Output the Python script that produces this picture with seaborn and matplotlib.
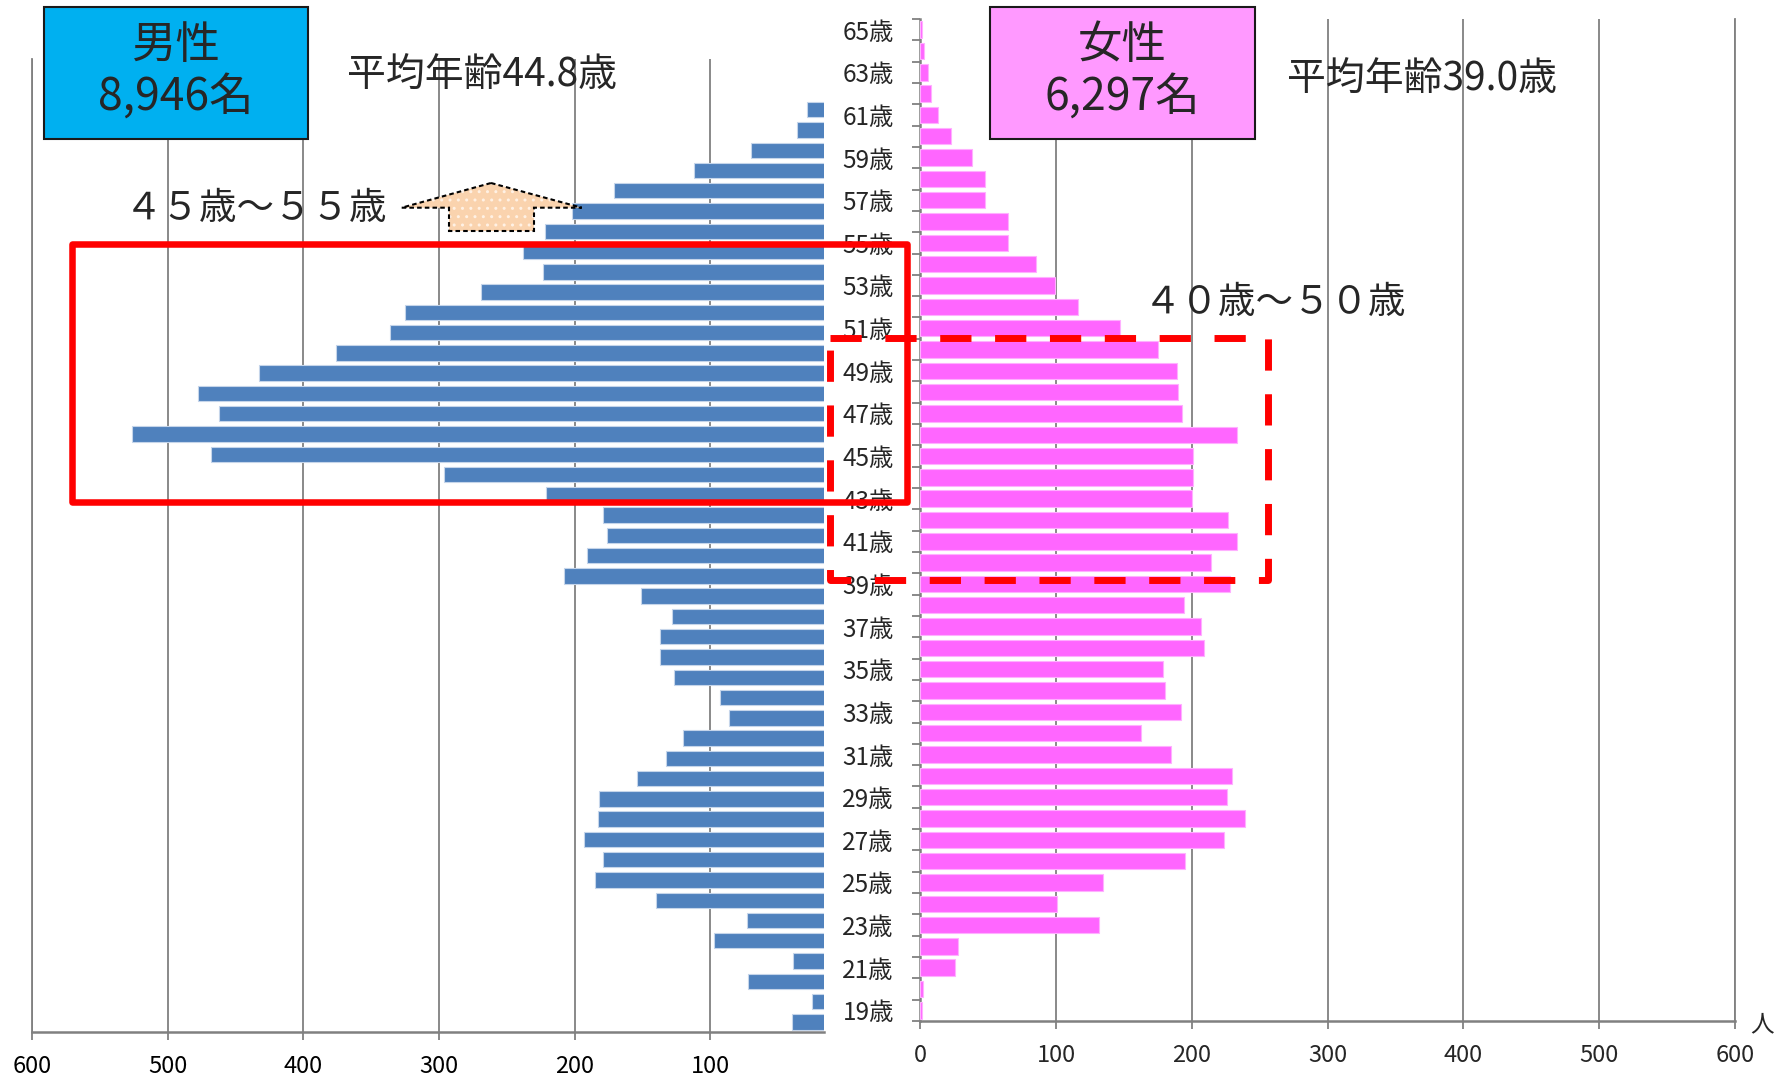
import matplotlib
matplotlib.use("Agg")
import matplotlib.pyplot as plt
import seaborn as sns
import pandas as pd
import numpy as np
from matplotlib.patches import Rectangle, Polygon
from matplotlib.lines import Line2D

# ---- data -------------------------------------------------------------
male_ages = list(range(18, 66))
male_counts = [40, 25, 72, 39, 97, 73, 140, 185, 179, 193,
               183, 182, 154, 133, 120, 86, 93, 127, 137, 137,
               128, 151, 208, 191, 176, 179, 221, 296, 468, 526,
               462, 478, 433, 376, 336, 325, 269, 223, 238, 222,
               202, 171, 112, 70, 36, 29, 0, 0]

female_ages = list(range(19, 66))
female_counts = [1, 2, 26, 28, 132, 101, 135, 195, 224, 239,
                 226, 230, 185, 163, 192, 180, 179, 209, 207, 194,
                 228, 214, 233, 227, 200, 201, 201, 233, 193, 190,
                 189, 175, 147, 116, 99, 85, 65, 65, 48, 48,
                 38, 23, 13, 8, 6, 3, 1]

value_ticks = [0, 100, 200, 300, 400, 500, 600]
age_labels = [a for a in female_ages if a % 2 == 1]

male_title = ["男性", "8,946名"]
female_title = ["女性", "6,297名"]
male_avg = "平均年齢44.8歳"
female_avg = "平均年齢39.0歳"
male_band = "４５歳～５５歳"
female_band = "４０歳～５０歳"
unit_label = "人"

# ---- style ------------------------------------------------------------
sns.set_style("white")
plt.rcParams["font.family"] = ["Noto Sans CJK JP", "DejaVu Sans"]

W, H = 1780, 1080
GRID = "#808080"
MALE_C = "#4F81BD"
FEMALE_C = "#FF66FF"
TICK_FS = 17
AGE_FS = 17.5

fig = plt.figure(figsize=(W / 100, H / 100), dpi=100)


def rect(x0, y0, x1, y1):
    return [x0 / W, 1 - y1 / H, (x1 - x0) / W, (y1 - y0) / H]


def fx(x):
    return x / W


def fy(y):
    return 1 - y / H


# ---- male (left, reversed value axis) ---------------------------------
axL = fig.add_axes(rect(32, 59, 824.3, 1032))
dfm = pd.DataFrame({"age": male_ages, "count": male_counts})
sns.barplot(data=dfm, x="count", y="age", orient="h", order=male_ages[::-1],
            color=MALE_C, saturation=1, width=0.76, edgecolor="#C5D5EA",
            linewidth=0.8, ax=axL, zorder=3)
axL.set_xlim(600, 16)
axL.set_ylim(len(male_ages) - 0.5, -0.5)
axL.set_xticks(value_ticks[1:])
axL.set_xticklabels([str(v) for v in value_ticks[1:]], fontsize=TICK_FS)
axL.set_yticks([])
axL.set_xlabel("")
axL.set_ylabel("")
axL.grid(axis="x", color=GRID, lw=1.3, zorder=0)
axL.set_axisbelow(True)
for s in ("top", "right"):
    axL.spines[s].set_visible(False)
for s in ("left", "bottom"):
    axL.spines[s].set_color(GRID)
    axL.spines[s].set_linewidth(1.8)
axL.spines["left"].set_linewidth(1.3)
axL.tick_params(axis="x", direction="out", length=6, width=1.3, color=GRID,
                pad=10.5, labelcolor="black", bottom=True)

# ---- female (right) ---------------------------------------------------
axR = fig.add_axes(rect(920.2, 19, 1734.8, 1021))
axR.patch.set_alpha(0)
dff = pd.DataFrame({"age": female_ages, "count": female_counts})
order_f = female_ages[::-1]
sns.barplot(data=dff, x="count", y="age", orient="h", order=order_f,
            color=FEMALE_C, saturation=1, width=0.77, edgecolor="#FFB0FF",
            linewidth=0.8, ax=axR, zorder=3)
axR.set_xlim(0, 600)
axR.set_ylim(len(female_ages) - 0.5, -0.5)
axR.set_xticks(value_ticks)
axR.set_xticklabels([str(v) for v in value_ticks], fontsize=TICK_FS)
axR.set_yticks([order_f.index(a) for a in age_labels])
axR.set_yticklabels([f"{a}歳" for a in age_labels], fontsize=AGE_FS)
axR.set_yticks(np.arange(-0.5, len(female_ages), 1.0), minor=True)
axR.set_xlabel("")
axR.set_ylabel("")
axR.grid(axis="x", color=GRID, lw=1.3, zorder=0)
axR.set_axisbelow(True)
axR.spines["top"].set_visible(False)
for s in ("left", "bottom", "right"):
    axR.spines[s].set_color(GRID)
    axR.spines[s].set_linewidth(1.8)
axR.spines["right"].set_linewidth(1.3)
axR.tick_params(axis="y", which="major", length=0, pad=19)
axR.tick_params(axis="y", which="minor", length=6, width=1.3, color=GRID,
                left=True)
axR.tick_params(axis="x", direction="out", length=6, width=1.3, color=GRID,
                pad=10.5, bottom=True)

fig.text(fx(1762), fy(1025), unit_label, ha="center", va="center", fontsize=17)

# ---- title boxes ------------------------------------------------------
for (x0, x1, fc, lines) in [(43.6, 308, "#00B0F0", male_title),
                            (990, 1255, "#FF99FF", female_title)]:
    fig.add_artist(Rectangle((fx(x0), fy(139)), (x1 - x0) / W, (139 - 6.7) / H,
                             transform=fig.transFigure, facecolor=fc,
                             edgecolor="#1a1a1a", lw=1.5, zorder=5))
    cx = (x0 + x1) / 2
    fig.text(fx(cx), fy(45), lines[0], ha="center", va="center",
             fontsize=32, zorder=6)
    fig.text(fx(cx), fy(98), lines[1], ha="center", va="center",
             fontsize=32, zorder=6)

fig.text(fx(482), fy(76), male_avg, ha="center", va="center", fontsize=28)
fig.text(fx(1422), fy(80), female_avg, ha="center", va="center", fontsize=28)
fig.text(fx(256), fy(209), male_band, ha="center", va="center", fontsize=27)
fig.text(fx(1275), fy(303), female_band, ha="center", va="center", fontsize=27)

# ---- up arrow ---------------------------------------------------------
arrow_px = [(491, 183), (581.7, 207.7), (534, 207.7), (534, 231),
            (449, 231), (449, 207.7), (401.7, 207.7)]
arrow_pts = [(fx(x), fy(y)) for x, y in arrow_px]
fig.add_artist(Polygon(arrow_pts, closed=True, transform=fig.transFigure,
                       facecolor="#FAD3AE", edgecolor="#FFF1E4", lw=0,
                       hatch="..", zorder=6))
fig.add_artist(Polygon(arrow_pts, closed=True, transform=fig.transFigure,
                       fill=False, edgecolor="black", lw=1.5,
                       linestyle=(0, (2.2, 1.5)), zorder=7))

# ---- highlight frames -------------------------------------------------
fig.add_artist(Rectangle((fx(72), fy(502)), (907 - 72) / W, (502 - 244) / H,
                         transform=fig.transFigure, fill=False,
                         edgecolor="#FF0000", lw=4.7, joinstyle="round",
                         zorder=8))
dx = [830, 1268, 1268, 830, 830]
dy = [338, 338, 580, 580, 338]
fig.add_artist(Line2D([fx(v) for v in dx], [fy(v) for v in dy],
                      transform=fig.transFigure, color="#FF0000", lw=5,
                      linestyle=(0, (4.5, 3.4)), solid_capstyle="butt",
                      dash_capstyle="butt", zorder=8))

fig.savefig("out.png", dpi=100, facecolor="white")
